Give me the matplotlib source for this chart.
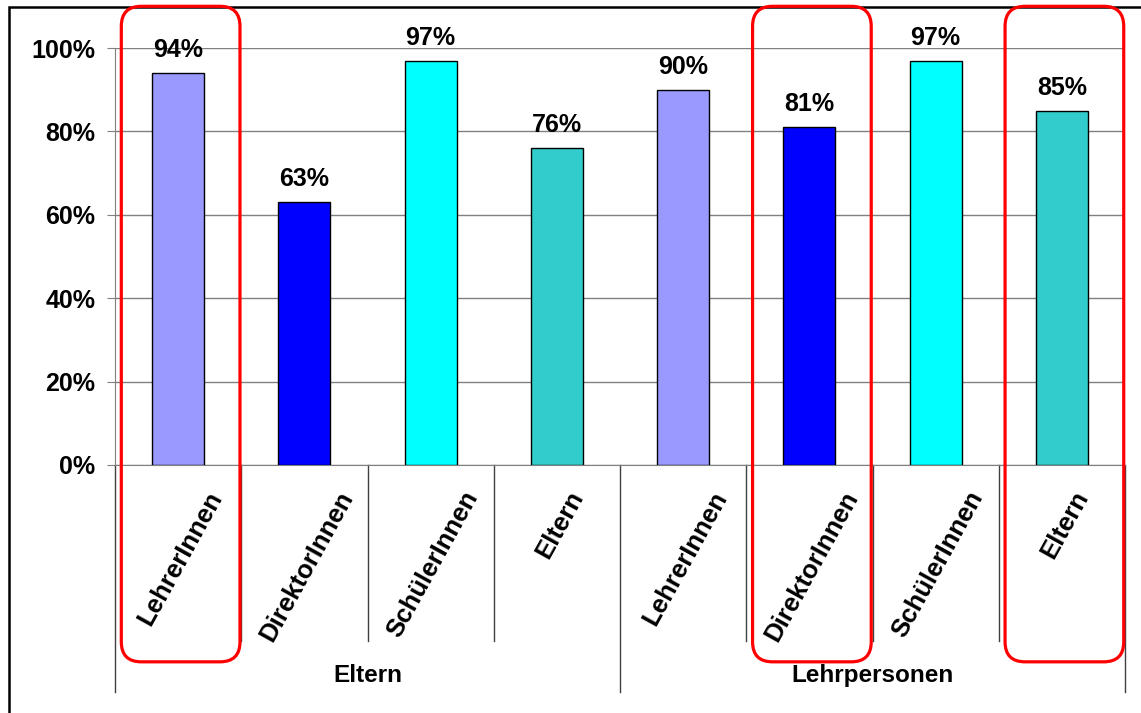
import numpy as np
import matplotlib
matplotlib.use("Agg")
import matplotlib.pyplot as plt
from matplotlib.patches import FancyBboxPatch, Rectangle
from matplotlib.transforms import IdentityTransform

plt.rcParams['font.family'] = ['Liberation Sans', 'DejaVu Sans']
plt.rcParams['font.weight'] = 'bold'

gruppen = ["Eltern", "Lehrpersonen"]
kategorien = ["LehrerInnen", "DirektorInnen", "SchülerInnen", "Eltern"] * 2
werte = [94, 63, 97, 76, 90, 81, 97, 85]
farben = ["#9999FF", "#0000FF", "#00FFFF", "#33CCCC"] * 2
markiert = [0, 5, 7]   # rot eingerahmte Kategorien

fig = plt.figure(figsize=(11.41, 7.13), dpi=100)
ax = fig.add_axes([115 / 1141, 1 - 465 / 713, 1010 / 1141, 417 / 713])

x = np.arange(len(werte))
ax.bar(x, werte, width=0.41, color=farben, edgecolor="black", linewidth=1, zorder=3)

ax.set_xlim(-0.5, len(werte) - 0.5)
ax.set_ylim(0, 100)
yt = list(range(0, 101, 20))
ax.set_yticks(yt)
ax.set_yticklabels([f"{v}%" for v in yt], fontsize=18, fontweight="bold")
ax.tick_params(axis="y", length=6, pad=8, color="#808080")
ax.set_xticks([])
ax.yaxis.grid(True, color="#808080", lw=1)
ax.set_axisbelow(True)
for s in ["top", "right"]:
    ax.spines[s].set_visible(False)
for s in ["left", "bottom"]:
    ax.spines[s].set_color("#808080")

# Werte über den Balken
for xi, v in zip(x, werte):
    ax.annotate(f"{v}%", (xi, v), xytext=(0, 11.5), textcoords="offset points",
                ha="center", va="baseline", fontsize=18, fontweight="bold",
                annotation_clip=False)

trans = ax.get_xaxis_transform()

# Kategorienbeschriftung
for xi, k in zip(x, kategorien):
    ax.text(xi + 0.02, -0.053, k, transform=trans, rotation=61, ha="center", va="top",
            fontsize=18.5, fontweight="bold")

# Trennlinien unter der Achse
n_pro_gruppe = len(kategorien) // len(gruppen)
for b in np.arange(-0.5, len(werte), 1):
    lang = (b + 0.5) % n_pro_gruppe == 0
    ax.plot([b, b], [0, -0.544 if lang else -0.422], transform=trans,
            clip_on=False, color="#404040", lw=1)

# Gruppenbeschriftung
for gi, g in enumerate(gruppen):
    mitte = gi * n_pro_gruppe + (n_pro_gruppe - 1) / 2
    ax.text(mitte, -0.505, g, transform=trans, ha="center", va="center",
            fontsize=17.5, fontweight="bold")

# rote Rahmen
for i in markiert:
    x0 = ax.transData.transform((i - 0.45, 0))[0]
    x1 = ax.transData.transform((i + 0.49, 0))[0]
    y0 = ax.transAxes.transform((0, -0.472))[1]
    y1 = ax.transAxes.transform((0, 1.10))[1]
    box = FancyBboxPatch((x0, y0), x1 - x0, y1 - y0,
                         boxstyle="round,pad=0,rounding_size=20",
                         transform=IdentityTransform(), fill=False,
                         ec="red", lw=2.3, clip_on=False, zorder=10)
    fig.add_artist(box)

# Rahmen um die Grafik
fig.add_artist(Rectangle((9 / 1141, -0.1), 1.2, 1.1 + (713 - 7) / 713 - 1,
                         transform=fig.transFigure, fill=False, ec="black",
                         lw=1.8, clip_on=False))

fig.savefig("out.png", dpi=100)
